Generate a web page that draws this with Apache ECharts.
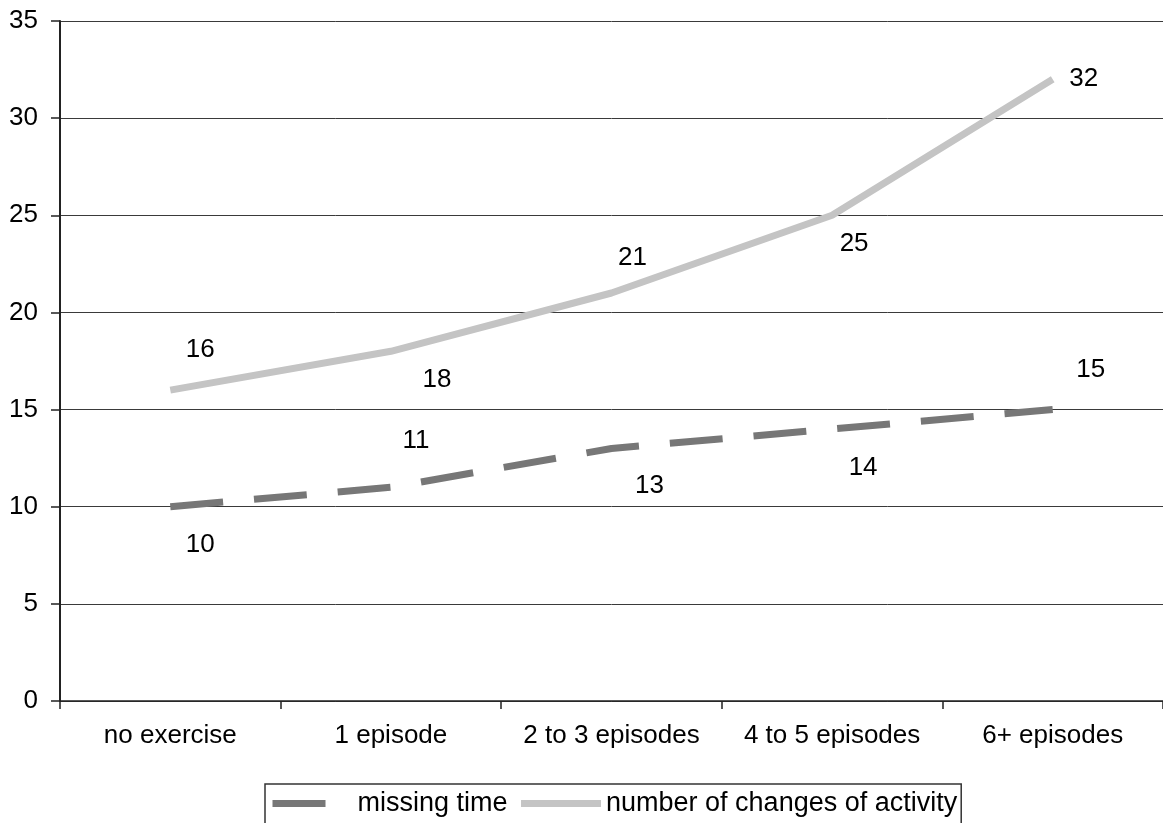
<!DOCTYPE html>
<html>
<head>
<meta charset="utf-8">
<script src="https://cdn.jsdelivr.net/npm/echarts@6/dist/echarts.min.js"></script>
<style>
html,body{margin:0;padding:0;background:#fff;}
#c{width:1163px;height:823px;}
</style>
</head>
<body>
<div id="c"></div>
<script>
var categories = ['no exercise', '1 episode', '2 to 3 episodes', '4 to 5 episodes', '6+ episodes'];
var missingTime = [10, 11, 13, 14, 15];
var changesOfActivity = [16, 18, 21, 25, 32];
var yTicks = [0, 5, 10, 15, 20, 25, 30, 35];

// label offsets (pixels) relative to each point
var missingOffsets = [[30, 38], [25, -46], [38, 37], [31, 39], [38, -40]];
var changesOffsets = [[30, -40], [46, 29], [21, -35], [22, 29], [31, 0]];

function withLabels(values, offsets) {
  return values.map(function (v, i) {
    return { value: v, label: { offset: offsets[i] } };
  });
}

var font = 'Liberation Sans, Arial, sans-serif';
var chart = echarts.init(document.getElementById('c'), null, { renderer: 'canvas' });
chart.setOption({
  animation: false,
  backgroundColor: '#ffffff',
  grid: { left: 60, right: -4, top: 21, bottom: 122, containLabel: false },
  xAxis: {
    type: 'category',
    data: categories,
    boundaryGap: true,
    axisLine: { show: true, lineStyle: { color: '#222', width: 1.5 } },
    axisTick: { show: true, alignWithLabel: false, length: 8, lineStyle: { color: '#222', width: 1.5 } },
    axisLabel: { color: '#000', fontSize: 26, fontFamily: font, margin: 22, interval: 0 },
    splitLine: { show: false }
  },
  yAxis: {
    type: 'value',
    min: yTicks[0],
    max: yTicks[yTicks.length - 1],
    interval: 5,
    axisLine: { show: true, lineStyle: { color: '#222', width: 2 } },
    axisTick: { show: true, inside: false, length: 9, lineStyle: { color: '#222', width: 1.5 } },
    axisLabel: { color: '#000', fontSize: 26, fontFamily: font, margin: 22 },
    splitLine: { show: true, lineStyle: { color: '#3a3a3a', width: 1 } }
  },
  legend: {
    show: true,
    left: 265,
    top: 784,
    orient: 'horizontal',
    itemWidth: 80,
    itemHeight: 14,
    itemGap: 10,
    padding: [6, 4, 30, 4],
    borderColor: '#333',
    borderWidth: 1.5,
    lineStyle: { width: 7 },
    itemStyle: { opacity: 0, borderWidth: 0 },
    textStyle: { color: '#000', fontSize: 27, fontFamily: font },
    data: ['missing time', 'number of changes of activity']
  },
  series: [
    {
      name: 'missing time',
      type: 'line',
      data: withLabels(missingTime, missingOffsets),
      smooth: false,
      symbol: 'circle',
      symbolSize: 0.1,
      itemStyle: { color: 'rgba(0,0,0,0)', borderWidth: 0 },
      lineStyle: { color: '#777777', width: 7, type: [53, 31], cap: 'butt' },
      label: { show: true, position: 'inside', color: '#000', fontSize: 26, fontFamily: font },
      z: 3
    },
    {
      name: 'number of changes of activity',
      type: 'line',
      data: withLabels(changesOfActivity, changesOffsets),
      smooth: false,
      symbol: 'circle',
      symbolSize: 0.1,
      itemStyle: { color: 'rgba(0,0,0,0)', borderWidth: 0 },
      lineStyle: { color: '#c4c4c4', width: 7, type: 'solid', cap: 'butt' },
      label: { show: true, position: 'inside', color: '#000', fontSize: 26, fontFamily: font },
      z: 3
    }
  ]
});
</script>
</body>
</html>
